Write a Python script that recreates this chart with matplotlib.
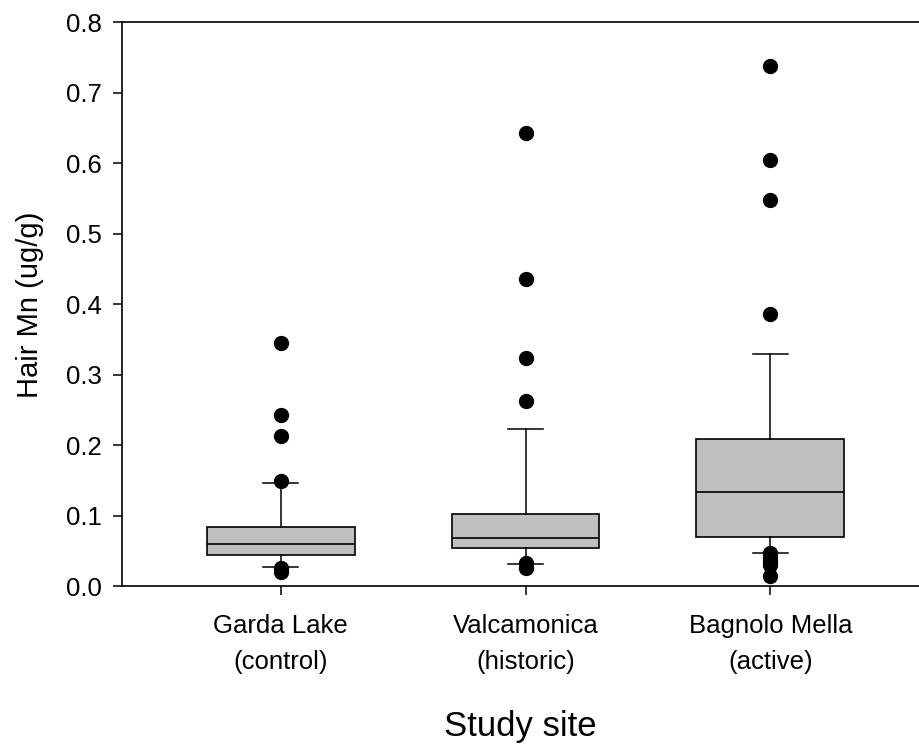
import matplotlib
matplotlib.use("Agg")
import matplotlib.pyplot as plt
from matplotlib.ticker import FormatStrFormatter

plt.rcParams['font.family'] = ['Liberation Sans', 'DejaVu Sans']

sites = ["Garda Lake\n(control)", "Valcamonica\n(historic)", "Bagnolo Mella\n(active)"]
q1 = [0.0447, 0.055, 0.0698]
med = [0.0603, 0.069, 0.1336]
q3 = [0.0848, 0.1028, 0.209]
whislo = [0.0277, 0.032, 0.047]
whishi = [0.147, 0.2234, 0.329]
fliers = [
    [0.345, 0.243, 0.2135, 0.149, 0.026, 0.021],
    [0.643, 0.436, 0.324, 0.263, 0.033, 0.026],
    [0.738, 0.605, 0.548, 0.3865, 0.048, 0.042, 0.036, 0.030, 0.015],
]
yticks = [0.0, 0.1, 0.2, 0.3, 0.4, 0.5, 0.6, 0.7, 0.8]

stats = []
for i in range(len(sites)):
    stats.append(dict(med=med[i], q1=q1[i], q3=q3[i], whislo=whislo[i],
                      whishi=whishi[i], fliers=fliers[i], label=sites[i]))

fig = plt.figure(figsize=(9.2, 7.49), dpi=100)
ax = fig.add_axes([0.1326, 0.217, 1.0 - 0.1326 - 0.001, 0.9702 - 0.217])

ax.bxp(stats, positions=[1, 2, 3], widths=0.604, patch_artist=True,
       boxprops=dict(facecolor='#c0c0c0', edgecolor='black', linewidth=1.2),
       medianprops=dict(color='black', linewidth=1.2),
       whiskerprops=dict(color='black', linewidth=1.1),
       capprops=dict(color='black', linewidth=1.1),
       flierprops=dict(marker='o', markerfacecolor='black', markeredgecolor='black',
                       markersize=10, linestyle='none'),
       capwidths=0.143)

ax.set_xlim(0.351, 3.608)
ax.set_ylim(0, 0.8)
ax.set_yticks(yticks)
ax.yaxis.set_major_formatter(FormatStrFormatter('%.1f'))

for s in ['left', 'bottom', 'top']:
    ax.spines[s].set_linewidth(1.2)
ax.spines['right'].set_visible(False)

ax.tick_params(axis='y', direction='out', length=6.5, width=1.1, labelsize=18.5, pad=8)
ax.tick_params(axis='x', direction='out', length=6.5, width=1.1, labelsize=18.5, pad=13.5)
for lbl in ax.get_xticklabels():
    lbl.set_linespacing(1.6)

ax.set_ylabel("Hair Mn (ug/g)", fontsize=21, labelpad=16)
ax.set_xlabel("Study site", fontsize=25, labelpad=26)

fig.savefig("out.png", dpi=100)
